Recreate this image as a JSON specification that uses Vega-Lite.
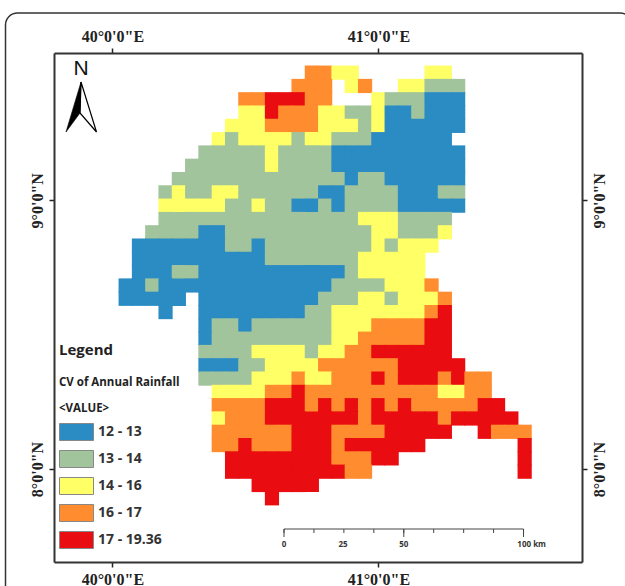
{"$schema":"https://vega.github.io/schema/vega-lite/v6.json","width":528,"height":509,"autosize":{"type":"none"},"padding":{"left":54,"top":53,"right":43,"bottom":24},"background":"white","view":{"stroke":null},
"data":{"values":[{"note":"annotation"}]},
"datasets":{"scalebar":[{"km":0,"lon":40.6453},{"km":12.5,"lon":40.7579},{"km":25,"lon":40.8704},{"km":37.5,"lon":40.983},{"km":50,"lon":41.0956},{"km":62.5,"lon":41.2081},{"km":75,"lon":41.3207},{"km":87.5,"lon":41.4332},{"km":100,"lon":41.5458}],
"scalelabels":[{"t":"0","lon":40.6453},{"t":"25","lon":40.8672},{"t":"50","lon":41.0957},{"t":"100 km","lon":41.5763}],
"cells":[
{"lon":40.75,"lat":9.475,"cv":"16 - 17"},{"lon":40.8,"lat":9.475,"cv":"16 - 17"},{"lon":40.85,"lat":9.475,"cv":"14 - 16"},{"lon":40.9,"lat":9.475,"cv":"14 - 16"},{"lon":41.2,"lat":9.475,"cv":"14 - 16"},{"lon":41.25,"lat":9.475,"cv":"14 - 16"},
{"lon":40.7,"lat":9.4255,"cv":"16 - 17"},{"lon":40.75,"lat":9.4255,"cv":"16 - 17"},{"lon":40.8,"lat":9.4255,"cv":"16 - 17"},{"lon":40.9,"lat":9.4255,"cv":"14 - 16"},{"lon":40.95,"lat":9.4255,"cv":"16 - 17"},{"lon":41.1,"lat":9.4255,"cv":"14 - 16"},{"lon":41.15,"lat":9.4255,"cv":"14 - 16"},{"lon":41.2,"lat":9.4255,"cv":"13 - 14"},{"lon":41.25,"lat":9.4255,"cv":"13 - 14"},{"lon":41.3,"lat":9.4255,"cv":"13 - 14"},
{"lon":40.5,"lat":9.376,"cv":"16 - 17"},{"lon":40.55,"lat":9.376,"cv":"16 - 17"},{"lon":40.6,"lat":9.376,"cv":"17 - 19.36"},{"lon":40.65,"lat":9.376,"cv":"17 - 19.36"},{"lon":40.7,"lat":9.376,"cv":"17 - 19.36"},{"lon":40.75,"lat":9.376,"cv":"16 - 17"},{"lon":40.8,"lat":9.376,"cv":"16 - 17"},{"lon":41,"lat":9.376,"cv":"14 - 16"},{"lon":41.05,"lat":9.376,"cv":"13 - 14"},{"lon":41.1,"lat":9.376,"cv":"13 - 14"},{"lon":41.15,"lat":9.376,"cv":"13 - 14"},{"lon":41.2,"lat":9.376,"cv":"12 - 13"},{"lon":41.25,"lat":9.376,"cv":"12 - 13"},{"lon":41.3,"lat":9.376,"cv":"12 - 13"},
{"lon":40.5,"lat":9.3265,"cv":"14 - 16"},{"lon":40.55,"lat":9.3265,"cv":"14 - 16"},{"lon":40.6,"lat":9.3265,"cv":"17 - 19.36"},{"lon":40.65,"lat":9.3265,"cv":"16 - 17"},{"lon":40.7,"lat":9.3265,"cv":"16 - 17"},{"lon":40.75,"lat":9.3265,"cv":"16 - 17"},{"lon":40.8,"lat":9.3265,"cv":"14 - 16"},{"lon":40.85,"lat":9.3265,"cv":"14 - 16"},{"lon":40.9,"lat":9.3265,"cv":"13 - 14"},{"lon":40.95,"lat":9.3265,"cv":"13 - 14"},{"lon":41,"lat":9.3265,"cv":"14 - 16"},{"lon":41.05,"lat":9.3265,"cv":"12 - 13"},{"lon":41.1,"lat":9.3265,"cv":"12 - 13"},{"lon":41.15,"lat":9.3265,"cv":"13 - 14"},{"lon":41.2,"lat":9.3265,"cv":"12 - 13"},{"lon":41.25,"lat":9.3265,"cv":"12 - 13"},{"lon":41.3,"lat":9.3265,"cv":"12 - 13"},
{"lon":40.45,"lat":9.277,"cv":"14 - 16"},{"lon":40.5,"lat":9.277,"cv":"14 - 16"},{"lon":40.55,"lat":9.277,"cv":"14 - 16"},{"lon":40.6,"lat":9.277,"cv":"16 - 17"},{"lon":40.65,"lat":9.277,"cv":"16 - 17"},{"lon":40.7,"lat":9.277,"cv":"16 - 17"},{"lon":40.75,"lat":9.277,"cv":"16 - 17"},{"lon":40.8,"lat":9.277,"cv":"14 - 16"},{"lon":40.85,"lat":9.277,"cv":"14 - 16"},{"lon":40.9,"lat":9.277,"cv":"14 - 16"},{"lon":40.95,"lat":9.277,"cv":"13 - 14"},{"lon":41,"lat":9.277,"cv":"14 - 16"},{"lon":41.05,"lat":9.277,"cv":"12 - 13"},{"lon":41.1,"lat":9.277,"cv":"12 - 13"},{"lon":41.15,"lat":9.277,"cv":"12 - 13"},{"lon":41.2,"lat":9.277,"cv":"12 - 13"},{"lon":41.25,"lat":9.277,"cv":"12 - 13"},{"lon":41.3,"lat":9.277,"cv":"12 - 13"},
{"lon":40.4,"lat":9.2275,"cv":"14 - 16"},{"lon":40.45,"lat":9.2275,"cv":"13 - 14"},{"lon":40.5,"lat":9.2275,"cv":"14 - 16"},{"lon":40.55,"lat":9.2275,"cv":"14 - 16"},{"lon":40.6,"lat":9.2275,"cv":"14 - 16"},{"lon":40.65,"lat":9.2275,"cv":"14 - 16"},{"lon":40.7,"lat":9.2275,"cv":"13 - 14"},{"lon":40.75,"lat":9.2275,"cv":"14 - 16"},{"lon":40.8,"lat":9.2275,"cv":"14 - 16"},{"lon":40.85,"lat":9.2275,"cv":"13 - 14"},{"lon":40.9,"lat":9.2275,"cv":"13 - 14"},{"lon":40.95,"lat":9.2275,"cv":"13 - 14"},{"lon":41,"lat":9.2275,"cv":"12 - 13"},{"lon":41.05,"lat":9.2275,"cv":"12 - 13"},{"lon":41.1,"lat":9.2275,"cv":"12 - 13"},{"lon":41.15,"lat":9.2275,"cv":"12 - 13"},{"lon":41.2,"lat":9.2275,"cv":"12 - 13"},{"lon":41.25,"lat":9.2275,"cv":"12 - 13"},
{"lon":40.35,"lat":9.178,"cv":"13 - 14"},{"lon":40.4,"lat":9.178,"cv":"13 - 14"},{"lon":40.45,"lat":9.178,"cv":"13 - 14"},{"lon":40.5,"lat":9.178,"cv":"13 - 14"},{"lon":40.55,"lat":9.178,"cv":"13 - 14"},{"lon":40.6,"lat":9.178,"cv":"14 - 16"},{"lon":40.65,"lat":9.178,"cv":"13 - 14"},{"lon":40.7,"lat":9.178,"cv":"13 - 14"},{"lon":40.75,"lat":9.178,"cv":"13 - 14"},{"lon":40.8,"lat":9.178,"cv":"13 - 14"},{"lon":40.85,"lat":9.178,"cv":"12 - 13"},{"lon":40.9,"lat":9.178,"cv":"12 - 13"},{"lon":40.95,"lat":9.178,"cv":"12 - 13"},{"lon":41,"lat":9.178,"cv":"12 - 13"},{"lon":41.05,"lat":9.178,"cv":"12 - 13"},{"lon":41.1,"lat":9.178,"cv":"12 - 13"},{"lon":41.15,"lat":9.178,"cv":"12 - 13"},{"lon":41.2,"lat":9.178,"cv":"12 - 13"},{"lon":41.25,"lat":9.178,"cv":"12 - 13"},{"lon":41.3,"lat":9.178,"cv":"12 - 13"},
{"lon":40.3,"lat":9.1285,"cv":"13 - 14"},{"lon":40.35,"lat":9.1285,"cv":"13 - 14"},{"lon":40.4,"lat":9.1285,"cv":"13 - 14"},{"lon":40.45,"lat":9.1285,"cv":"13 - 14"},{"lon":40.5,"lat":9.1285,"cv":"13 - 14"},{"lon":40.55,"lat":9.1285,"cv":"13 - 14"},{"lon":40.6,"lat":9.1285,"cv":"14 - 16"},{"lon":40.65,"lat":9.1285,"cv":"13 - 14"},{"lon":40.7,"lat":9.1285,"cv":"13 - 14"},{"lon":40.75,"lat":9.1285,"cv":"13 - 14"},{"lon":40.8,"lat":9.1285,"cv":"13 - 14"},{"lon":40.85,"lat":9.1285,"cv":"12 - 13"},{"lon":40.9,"lat":9.1285,"cv":"12 - 13"},{"lon":40.95,"lat":9.1285,"cv":"12 - 13"},{"lon":41,"lat":9.1285,"cv":"12 - 13"},{"lon":41.05,"lat":9.1285,"cv":"12 - 13"},{"lon":41.1,"lat":9.1285,"cv":"12 - 13"},{"lon":41.15,"lat":9.1285,"cv":"12 - 13"},{"lon":41.2,"lat":9.1285,"cv":"12 - 13"},{"lon":41.25,"lat":9.1285,"cv":"12 - 13"},{"lon":41.3,"lat":9.1285,"cv":"12 - 13"},
{"lon":40.25,"lat":9.079,"cv":"13 - 14"},{"lon":40.3,"lat":9.079,"cv":"13 - 14"},{"lon":40.35,"lat":9.079,"cv":"13 - 14"},{"lon":40.4,"lat":9.079,"cv":"13 - 14"},{"lon":40.45,"lat":9.079,"cv":"13 - 14"},{"lon":40.5,"lat":9.079,"cv":"13 - 14"},{"lon":40.55,"lat":9.079,"cv":"13 - 14"},{"lon":40.6,"lat":9.079,"cv":"13 - 14"},{"lon":40.65,"lat":9.079,"cv":"13 - 14"},{"lon":40.7,"lat":9.079,"cv":"13 - 14"},{"lon":40.75,"lat":9.079,"cv":"13 - 14"},{"lon":40.8,"lat":9.079,"cv":"13 - 14"},{"lon":40.85,"lat":9.079,"cv":"13 - 14"},{"lon":40.9,"lat":9.079,"cv":"12 - 13"},{"lon":40.95,"lat":9.079,"cv":"13 - 14"},{"lon":41,"lat":9.079,"cv":"13 - 14"},{"lon":41.05,"lat":9.079,"cv":"12 - 13"},{"lon":41.1,"lat":9.079,"cv":"12 - 13"},{"lon":41.15,"lat":9.079,"cv":"12 - 13"},{"lon":41.2,"lat":9.079,"cv":"12 - 13"},{"lon":41.25,"lat":9.079,"cv":"12 - 13"},{"lon":41.3,"lat":9.079,"cv":"12 - 13"},
{"lon":40.2,"lat":9.0295,"cv":"13 - 14"},{"lon":40.25,"lat":9.0295,"cv":"14 - 16"},{"lon":40.3,"lat":9.0295,"cv":"13 - 14"},{"lon":40.35,"lat":9.0295,"cv":"13 - 14"},{"lon":40.4,"lat":9.0295,"cv":"14 - 16"},{"lon":40.45,"lat":9.0295,"cv":"14 - 16"},{"lon":40.5,"lat":9.0295,"cv":"13 - 14"},{"lon":40.55,"lat":9.0295,"cv":"13 - 14"},{"lon":40.6,"lat":9.0295,"cv":"13 - 14"},{"lon":40.65,"lat":9.0295,"cv":"13 - 14"},{"lon":40.7,"lat":9.0295,"cv":"13 - 14"},{"lon":40.75,"lat":9.0295,"cv":"13 - 14"},{"lon":40.8,"lat":9.0295,"cv":"12 - 13"},{"lon":40.85,"lat":9.0295,"cv":"12 - 13"},{"lon":40.9,"lat":9.0295,"cv":"13 - 14"},{"lon":40.95,"lat":9.0295,"cv":"13 - 14"},{"lon":41,"lat":9.0295,"cv":"13 - 14"},{"lon":41.05,"lat":9.0295,"cv":"13 - 14"},{"lon":41.1,"lat":9.0295,"cv":"12 - 13"},{"lon":41.15,"lat":9.0295,"cv":"12 - 13"},{"lon":41.2,"lat":9.0295,"cv":"12 - 13"},{"lon":41.25,"lat":9.0295,"cv":"13 - 14"},{"lon":41.3,"lat":9.0295,"cv":"13 - 14"},
{"lon":40.2,"lat":8.98,"cv":"14 - 16"},{"lon":40.25,"lat":8.98,"cv":"14 - 16"},{"lon":40.3,"lat":8.98,"cv":"14 - 16"},{"lon":40.35,"lat":8.98,"cv":"14 - 16"},{"lon":40.4,"lat":8.98,"cv":"14 - 16"},{"lon":40.45,"lat":8.98,"cv":"13 - 14"},{"lon":40.5,"lat":8.98,"cv":"13 - 14"},{"lon":40.55,"lat":8.98,"cv":"14 - 16"},{"lon":40.6,"lat":8.98,"cv":"13 - 14"},{"lon":40.65,"lat":8.98,"cv":"13 - 14"},{"lon":40.7,"lat":8.98,"cv":"12 - 13"},{"lon":40.75,"lat":8.98,"cv":"12 - 13"},{"lon":40.8,"lat":8.98,"cv":"13 - 14"},{"lon":40.85,"lat":8.98,"cv":"12 - 13"},{"lon":40.9,"lat":8.98,"cv":"13 - 14"},{"lon":40.95,"lat":8.98,"cv":"13 - 14"},{"lon":41,"lat":8.98,"cv":"13 - 14"},{"lon":41.05,"lat":8.98,"cv":"13 - 14"},{"lon":41.1,"lat":8.98,"cv":"12 - 13"},{"lon":41.15,"lat":8.98,"cv":"12 - 13"},{"lon":41.2,"lat":8.98,"cv":"12 - 13"},{"lon":41.25,"lat":8.98,"cv":"12 - 13"},{"lon":41.3,"lat":8.98,"cv":"12 - 13"},
{"lon":40.2,"lat":8.9305,"cv":"13 - 14"},{"lon":40.25,"lat":8.9305,"cv":"13 - 14"},{"lon":40.3,"lat":8.9305,"cv":"13 - 14"},{"lon":40.35,"lat":8.9305,"cv":"13 - 14"},{"lon":40.4,"lat":8.9305,"cv":"13 - 14"},{"lon":40.45,"lat":8.9305,"cv":"13 - 14"},{"lon":40.5,"lat":8.9305,"cv":"13 - 14"},{"lon":40.55,"lat":8.9305,"cv":"13 - 14"},{"lon":40.6,"lat":8.9305,"cv":"13 - 14"},{"lon":40.65,"lat":8.9305,"cv":"13 - 14"},{"lon":40.7,"lat":8.9305,"cv":"13 - 14"},{"lon":40.75,"lat":8.9305,"cv":"13 - 14"},{"lon":40.8,"lat":8.9305,"cv":"13 - 14"},{"lon":40.85,"lat":8.9305,"cv":"13 - 14"},{"lon":40.9,"lat":8.9305,"cv":"13 - 14"},{"lon":40.95,"lat":8.9305,"cv":"14 - 16"},{"lon":41,"lat":8.9305,"cv":"14 - 16"},{"lon":41.05,"lat":8.9305,"cv":"14 - 16"},{"lon":41.1,"lat":8.9305,"cv":"13 - 14"},{"lon":41.15,"lat":8.9305,"cv":"13 - 14"},{"lon":41.2,"lat":8.9305,"cv":"13 - 14"},{"lon":41.25,"lat":8.9305,"cv":"13 - 14"},
{"lon":40.15,"lat":8.881,"cv":"13 - 14"},{"lon":40.2,"lat":8.881,"cv":"13 - 14"},{"lon":40.25,"lat":8.881,"cv":"13 - 14"},{"lon":40.3,"lat":8.881,"cv":"13 - 14"},{"lon":40.35,"lat":8.881,"cv":"12 - 13"},{"lon":40.4,"lat":8.881,"cv":"12 - 13"},{"lon":40.45,"lat":8.881,"cv":"13 - 14"},{"lon":40.5,"lat":8.881,"cv":"13 - 14"},{"lon":40.55,"lat":8.881,"cv":"13 - 14"},{"lon":40.6,"lat":8.881,"cv":"13 - 14"},{"lon":40.65,"lat":8.881,"cv":"13 - 14"},{"lon":40.7,"lat":8.881,"cv":"13 - 14"},{"lon":40.75,"lat":8.881,"cv":"13 - 14"},{"lon":40.8,"lat":8.881,"cv":"13 - 14"},{"lon":40.85,"lat":8.881,"cv":"13 - 14"},{"lon":40.9,"lat":8.881,"cv":"13 - 14"},{"lon":40.95,"lat":8.881,"cv":"13 - 14"},{"lon":41,"lat":8.881,"cv":"14 - 16"},{"lon":41.05,"lat":8.881,"cv":"14 - 16"},{"lon":41.1,"lat":8.881,"cv":"13 - 14"},{"lon":41.15,"lat":8.881,"cv":"13 - 14"},{"lon":41.2,"lat":8.881,"cv":"13 - 14"},{"lon":41.25,"lat":8.881,"cv":"14 - 16"},
{"lon":40.1,"lat":8.8315,"cv":"12 - 13"},{"lon":40.15,"lat":8.8315,"cv":"12 - 13"},{"lon":40.2,"lat":8.8315,"cv":"12 - 13"},{"lon":40.25,"lat":8.8315,"cv":"12 - 13"},{"lon":40.3,"lat":8.8315,"cv":"12 - 13"},{"lon":40.35,"lat":8.8315,"cv":"12 - 13"},{"lon":40.4,"lat":8.8315,"cv":"12 - 13"},{"lon":40.45,"lat":8.8315,"cv":"13 - 14"},{"lon":40.5,"lat":8.8315,"cv":"13 - 14"},{"lon":40.55,"lat":8.8315,"cv":"12 - 13"},{"lon":40.6,"lat":8.8315,"cv":"13 - 14"},{"lon":40.65,"lat":8.8315,"cv":"13 - 14"},{"lon":40.7,"lat":8.8315,"cv":"13 - 14"},{"lon":40.75,"lat":8.8315,"cv":"13 - 14"},{"lon":40.8,"lat":8.8315,"cv":"13 - 14"},{"lon":40.85,"lat":8.8315,"cv":"13 - 14"},{"lon":40.9,"lat":8.8315,"cv":"13 - 14"},{"lon":40.95,"lat":8.8315,"cv":"13 - 14"},{"lon":41,"lat":8.8315,"cv":"14 - 16"},{"lon":41.05,"lat":8.8315,"cv":"13 - 14"},{"lon":41.1,"lat":8.8315,"cv":"14 - 16"},{"lon":41.15,"lat":8.8315,"cv":"14 - 16"},{"lon":41.2,"lat":8.8315,"cv":"14 - 16"},
{"lon":40.1,"lat":8.782,"cv":"12 - 13"},{"lon":40.15,"lat":8.782,"cv":"12 - 13"},{"lon":40.2,"lat":8.782,"cv":"12 - 13"},{"lon":40.25,"lat":8.782,"cv":"12 - 13"},{"lon":40.3,"lat":8.782,"cv":"12 - 13"},{"lon":40.35,"lat":8.782,"cv":"12 - 13"},{"lon":40.4,"lat":8.782,"cv":"12 - 13"},{"lon":40.45,"lat":8.782,"cv":"12 - 13"},{"lon":40.5,"lat":8.782,"cv":"12 - 13"},{"lon":40.55,"lat":8.782,"cv":"12 - 13"},{"lon":40.6,"lat":8.782,"cv":"13 - 14"},{"lon":40.65,"lat":8.782,"cv":"13 - 14"},{"lon":40.7,"lat":8.782,"cv":"13 - 14"},{"lon":40.75,"lat":8.782,"cv":"13 - 14"},{"lon":40.8,"lat":8.782,"cv":"13 - 14"},{"lon":40.85,"lat":8.782,"cv":"13 - 14"},{"lon":40.9,"lat":8.782,"cv":"13 - 14"},{"lon":40.95,"lat":8.782,"cv":"14 - 16"},{"lon":41,"lat":8.782,"cv":"14 - 16"},{"lon":41.05,"lat":8.782,"cv":"14 - 16"},{"lon":41.1,"lat":8.782,"cv":"14 - 16"},{"lon":41.15,"lat":8.782,"cv":"14 - 16"},
{"lon":40.1,"lat":8.7325,"cv":"12 - 13"},{"lon":40.15,"lat":8.7325,"cv":"12 - 13"},{"lon":40.2,"lat":8.7325,"cv":"12 - 13"},{"lon":40.25,"lat":8.7325,"cv":"13 - 14"},{"lon":40.3,"lat":8.7325,"cv":"13 - 14"},{"lon":40.35,"lat":8.7325,"cv":"12 - 13"},{"lon":40.4,"lat":8.7325,"cv":"12 - 13"},{"lon":40.45,"lat":8.7325,"cv":"12 - 13"},{"lon":40.5,"lat":8.7325,"cv":"12 - 13"},{"lon":40.55,"lat":8.7325,"cv":"12 - 13"},{"lon":40.6,"lat":8.7325,"cv":"12 - 13"},{"lon":40.65,"lat":8.7325,"cv":"12 - 13"},{"lon":40.7,"lat":8.7325,"cv":"12 - 13"},{"lon":40.75,"lat":8.7325,"cv":"12 - 13"},{"lon":40.8,"lat":8.7325,"cv":"12 - 13"},{"lon":40.85,"lat":8.7325,"cv":"12 - 13"},{"lon":40.9,"lat":8.7325,"cv":"13 - 14"},{"lon":40.95,"lat":8.7325,"cv":"14 - 16"},{"lon":41,"lat":8.7325,"cv":"14 - 16"},{"lon":41.05,"lat":8.7325,"cv":"14 - 16"},{"lon":41.1,"lat":8.7325,"cv":"14 - 16"},{"lon":41.15,"lat":8.7325,"cv":"14 - 16"},
{"lon":40.05,"lat":8.683,"cv":"12 - 13"},{"lon":40.1,"lat":8.683,"cv":"12 - 13"},{"lon":40.15,"lat":8.683,"cv":"13 - 14"},{"lon":40.2,"lat":8.683,"cv":"12 - 13"},{"lon":40.25,"lat":8.683,"cv":"12 - 13"},{"lon":40.3,"lat":8.683,"cv":"12 - 13"},{"lon":40.35,"lat":8.683,"cv":"12 - 13"},{"lon":40.4,"lat":8.683,"cv":"12 - 13"},{"lon":40.45,"lat":8.683,"cv":"12 - 13"},{"lon":40.5,"lat":8.683,"cv":"12 - 13"},{"lon":40.55,"lat":8.683,"cv":"12 - 13"},{"lon":40.6,"lat":8.683,"cv":"12 - 13"},{"lon":40.65,"lat":8.683,"cv":"12 - 13"},{"lon":40.7,"lat":8.683,"cv":"12 - 13"},{"lon":40.75,"lat":8.683,"cv":"12 - 13"},{"lon":40.8,"lat":8.683,"cv":"12 - 13"},{"lon":40.85,"lat":8.683,"cv":"13 - 14"},{"lon":40.9,"lat":8.683,"cv":"13 - 14"},{"lon":40.95,"lat":8.683,"cv":"13 - 14"},{"lon":41,"lat":8.683,"cv":"13 - 14"},{"lon":41.05,"lat":8.683,"cv":"14 - 16"},{"lon":41.1,"lat":8.683,"cv":"14 - 16"},{"lon":41.15,"lat":8.683,"cv":"14 - 16"},{"lon":41.2,"lat":8.683,"cv":"16 - 17"},
{"lon":40.05,"lat":8.6335,"cv":"12 - 13"},{"lon":40.1,"lat":8.6335,"cv":"12 - 13"},{"lon":40.15,"lat":8.6335,"cv":"12 - 13"},{"lon":40.2,"lat":8.6335,"cv":"12 - 13"},{"lon":40.25,"lat":8.6335,"cv":"12 - 13"},{"lon":40.35,"lat":8.6335,"cv":"12 - 13"},{"lon":40.4,"lat":8.6335,"cv":"12 - 13"},{"lon":40.45,"lat":8.6335,"cv":"12 - 13"},{"lon":40.5,"lat":8.6335,"cv":"12 - 13"},{"lon":40.55,"lat":8.6335,"cv":"12 - 13"},{"lon":40.6,"lat":8.6335,"cv":"12 - 13"},{"lon":40.65,"lat":8.6335,"cv":"12 - 13"},{"lon":40.7,"lat":8.6335,"cv":"12 - 13"},{"lon":40.75,"lat":8.6335,"cv":"12 - 13"},{"lon":40.8,"lat":8.6335,"cv":"13 - 14"},{"lon":40.85,"lat":8.6335,"cv":"13 - 14"},{"lon":40.9,"lat":8.6335,"cv":"13 - 14"},{"lon":40.95,"lat":8.6335,"cv":"14 - 16"},{"lon":41,"lat":8.6335,"cv":"14 - 16"},{"lon":41.05,"lat":8.6335,"cv":"13 - 14"},{"lon":41.1,"lat":8.6335,"cv":"14 - 16"},{"lon":41.15,"lat":8.6335,"cv":"14 - 16"},{"lon":41.2,"lat":8.6335,"cv":"14 - 16"},{"lon":41.25,"lat":8.6335,"cv":"16 - 17"},
{"lon":40.2,"lat":8.584,"cv":"12 - 13"},{"lon":40.35,"lat":8.584,"cv":"12 - 13"},{"lon":40.4,"lat":8.584,"cv":"12 - 13"},{"lon":40.45,"lat":8.584,"cv":"12 - 13"},{"lon":40.5,"lat":8.584,"cv":"12 - 13"},{"lon":40.55,"lat":8.584,"cv":"12 - 13"},{"lon":40.6,"lat":8.584,"cv":"12 - 13"},{"lon":40.65,"lat":8.584,"cv":"12 - 13"},{"lon":40.7,"lat":8.584,"cv":"12 - 13"},{"lon":40.75,"lat":8.584,"cv":"13 - 14"},{"lon":40.8,"lat":8.584,"cv":"13 - 14"},{"lon":40.85,"lat":8.584,"cv":"14 - 16"},{"lon":40.9,"lat":8.584,"cv":"14 - 16"},{"lon":40.95,"lat":8.584,"cv":"14 - 16"},{"lon":41,"lat":8.584,"cv":"14 - 16"},{"lon":41.05,"lat":8.584,"cv":"14 - 16"},{"lon":41.1,"lat":8.584,"cv":"14 - 16"},{"lon":41.15,"lat":8.584,"cv":"14 - 16"},{"lon":41.2,"lat":8.584,"cv":"16 - 17"},{"lon":41.25,"lat":8.584,"cv":"17 - 19.36"},
{"lon":40.35,"lat":8.5345,"cv":"12 - 13"},{"lon":40.4,"lat":8.5345,"cv":"13 - 14"},{"lon":40.45,"lat":8.5345,"cv":"13 - 14"},{"lon":40.5,"lat":8.5345,"cv":"12 - 13"},{"lon":40.55,"lat":8.5345,"cv":"13 - 14"},{"lon":40.6,"lat":8.5345,"cv":"13 - 14"},{"lon":40.65,"lat":8.5345,"cv":"13 - 14"},{"lon":40.7,"lat":8.5345,"cv":"13 - 14"},{"lon":40.75,"lat":8.5345,"cv":"13 - 14"},{"lon":40.8,"lat":8.5345,"cv":"13 - 14"},{"lon":40.85,"lat":8.5345,"cv":"14 - 16"},{"lon":40.9,"lat":8.5345,"cv":"14 - 16"},{"lon":40.95,"lat":8.5345,"cv":"14 - 16"},{"lon":41,"lat":8.5345,"cv":"16 - 17"},{"lon":41.05,"lat":8.5345,"cv":"16 - 17"},{"lon":41.1,"lat":8.5345,"cv":"16 - 17"},{"lon":41.15,"lat":8.5345,"cv":"16 - 17"},{"lon":41.2,"lat":8.5345,"cv":"17 - 19.36"},{"lon":41.25,"lat":8.5345,"cv":"17 - 19.36"},
{"lon":40.35,"lat":8.485,"cv":"12 - 13"},{"lon":40.4,"lat":8.485,"cv":"13 - 14"},{"lon":40.45,"lat":8.485,"cv":"13 - 14"},{"lon":40.5,"lat":8.485,"cv":"13 - 14"},{"lon":40.55,"lat":8.485,"cv":"13 - 14"},{"lon":40.6,"lat":8.485,"cv":"13 - 14"},{"lon":40.65,"lat":8.485,"cv":"13 - 14"},{"lon":40.7,"lat":8.485,"cv":"13 - 14"},{"lon":40.75,"lat":8.485,"cv":"13 - 14"},{"lon":40.8,"lat":8.485,"cv":"13 - 14"},{"lon":40.85,"lat":8.485,"cv":"14 - 16"},{"lon":40.9,"lat":8.485,"cv":"14 - 16"},{"lon":40.95,"lat":8.485,"cv":"16 - 17"},{"lon":41,"lat":8.485,"cv":"16 - 17"},{"lon":41.05,"lat":8.485,"cv":"16 - 17"},{"lon":41.1,"lat":8.485,"cv":"16 - 17"},{"lon":41.15,"lat":8.485,"cv":"16 - 17"},{"lon":41.2,"lat":8.485,"cv":"17 - 19.36"},{"lon":41.25,"lat":8.485,"cv":"17 - 19.36"},
{"lon":40.35,"lat":8.4355,"cv":"13 - 14"},{"lon":40.4,"lat":8.4355,"cv":"13 - 14"},{"lon":40.45,"lat":8.4355,"cv":"13 - 14"},{"lon":40.5,"lat":8.4355,"cv":"13 - 14"},{"lon":40.55,"lat":8.4355,"cv":"14 - 16"},{"lon":40.6,"lat":8.4355,"cv":"14 - 16"},{"lon":40.65,"lat":8.4355,"cv":"14 - 16"},{"lon":40.7,"lat":8.4355,"cv":"14 - 16"},{"lon":40.75,"lat":8.4355,"cv":"13 - 14"},{"lon":40.8,"lat":8.4355,"cv":"14 - 16"},{"lon":40.85,"lat":8.4355,"cv":"14 - 16"},{"lon":40.9,"lat":8.4355,"cv":"16 - 17"},{"lon":40.95,"lat":8.4355,"cv":"16 - 17"},{"lon":41,"lat":8.4355,"cv":"17 - 19.36"},{"lon":41.05,"lat":8.4355,"cv":"17 - 19.36"},{"lon":41.1,"lat":8.4355,"cv":"17 - 19.36"},{"lon":41.15,"lat":8.4355,"cv":"17 - 19.36"},{"lon":41.2,"lat":8.4355,"cv":"17 - 19.36"},{"lon":41.25,"lat":8.4355,"cv":"17 - 19.36"},
{"lon":40.35,"lat":8.386,"cv":"12 - 13"},{"lon":40.4,"lat":8.386,"cv":"12 - 13"},{"lon":40.45,"lat":8.386,"cv":"12 - 13"},{"lon":40.5,"lat":8.386,"cv":"13 - 14"},{"lon":40.55,"lat":8.386,"cv":"13 - 14"},{"lon":40.6,"lat":8.386,"cv":"14 - 16"},{"lon":40.65,"lat":8.386,"cv":"14 - 16"},{"lon":40.7,"lat":8.386,"cv":"14 - 16"},{"lon":40.75,"lat":8.386,"cv":"14 - 16"},{"lon":40.8,"lat":8.386,"cv":"16 - 17"},{"lon":40.85,"lat":8.386,"cv":"16 - 17"},{"lon":40.9,"lat":8.386,"cv":"16 - 17"},{"lon":40.95,"lat":8.386,"cv":"16 - 17"},{"lon":41,"lat":8.386,"cv":"16 - 17"},{"lon":41.05,"lat":8.386,"cv":"16 - 17"},{"lon":41.1,"lat":8.386,"cv":"17 - 19.36"},{"lon":41.15,"lat":8.386,"cv":"17 - 19.36"},{"lon":41.2,"lat":8.386,"cv":"17 - 19.36"},{"lon":41.25,"lat":8.386,"cv":"17 - 19.36"},{"lon":41.3,"lat":8.386,"cv":"17 - 19.36"},
{"lon":40.35,"lat":8.3365,"cv":"13 - 14"},{"lon":40.4,"lat":8.3365,"cv":"13 - 14"},{"lon":40.45,"lat":8.3365,"cv":"13 - 14"},{"lon":40.5,"lat":8.3365,"cv":"13 - 14"},{"lon":40.55,"lat":8.3365,"cv":"14 - 16"},{"lon":40.6,"lat":8.3365,"cv":"14 - 16"},{"lon":40.65,"lat":8.3365,"cv":"14 - 16"},{"lon":40.7,"lat":8.3365,"cv":"16 - 17"},{"lon":40.75,"lat":8.3365,"cv":"14 - 16"},{"lon":40.8,"lat":8.3365,"cv":"14 - 16"},{"lon":40.85,"lat":8.3365,"cv":"16 - 17"},{"lon":40.9,"lat":8.3365,"cv":"16 - 17"},{"lon":40.95,"lat":8.3365,"cv":"16 - 17"},{"lon":41,"lat":8.3365,"cv":"17 - 19.36"},{"lon":41.05,"lat":8.3365,"cv":"16 - 17"},{"lon":41.1,"lat":8.3365,"cv":"17 - 19.36"},{"lon":41.15,"lat":8.3365,"cv":"17 - 19.36"},{"lon":41.2,"lat":8.3365,"cv":"17 - 19.36"},{"lon":41.25,"lat":8.3365,"cv":"16 - 17"},{"lon":41.3,"lat":8.3365,"cv":"17 - 19.36"},{"lon":41.35,"lat":8.3365,"cv":"16 - 17"},{"lon":41.4,"lat":8.3365,"cv":"16 - 17"},
{"lon":40.4,"lat":8.287,"cv":"14 - 16"},{"lon":40.45,"lat":8.287,"cv":"14 - 16"},{"lon":40.5,"lat":8.287,"cv":"14 - 16"},{"lon":40.55,"lat":8.287,"cv":"14 - 16"},{"lon":40.6,"lat":8.287,"cv":"16 - 17"},{"lon":40.65,"lat":8.287,"cv":"16 - 17"},{"lon":40.7,"lat":8.287,"cv":"17 - 19.36"},{"lon":40.75,"lat":8.287,"cv":"16 - 17"},{"lon":40.8,"lat":8.287,"cv":"16 - 17"},{"lon":40.85,"lat":8.287,"cv":"16 - 17"},{"lon":40.9,"lat":8.287,"cv":"16 - 17"},{"lon":40.95,"lat":8.287,"cv":"16 - 17"},{"lon":41,"lat":8.287,"cv":"16 - 17"},{"lon":41.05,"lat":8.287,"cv":"16 - 17"},{"lon":41.1,"lat":8.287,"cv":"16 - 17"},{"lon":41.15,"lat":8.287,"cv":"16 - 17"},{"lon":41.2,"lat":8.287,"cv":"16 - 17"},{"lon":41.25,"lat":8.287,"cv":"14 - 16"},{"lon":41.3,"lat":8.287,"cv":"14 - 16"},{"lon":41.35,"lat":8.287,"cv":"16 - 17"},{"lon":41.4,"lat":8.287,"cv":"16 - 17"},
{"lon":40.4,"lat":8.2375,"cv":"16 - 17"},{"lon":40.45,"lat":8.2375,"cv":"16 - 17"},{"lon":40.5,"lat":8.2375,"cv":"16 - 17"},{"lon":40.55,"lat":8.2375,"cv":"16 - 17"},{"lon":40.6,"lat":8.2375,"cv":"17 - 19.36"},{"lon":40.65,"lat":8.2375,"cv":"17 - 19.36"},{"lon":40.7,"lat":8.2375,"cv":"17 - 19.36"},{"lon":40.75,"lat":8.2375,"cv":"16 - 17"},{"lon":40.8,"lat":8.2375,"cv":"17 - 19.36"},{"lon":40.85,"lat":8.2375,"cv":"16 - 17"},{"lon":40.9,"lat":8.2375,"cv":"17 - 19.36"},{"lon":40.95,"lat":8.2375,"cv":"16 - 17"},{"lon":41,"lat":8.2375,"cv":"17 - 19.36"},{"lon":41.05,"lat":8.2375,"cv":"16 - 17"},{"lon":41.1,"lat":8.2375,"cv":"17 - 19.36"},{"lon":41.15,"lat":8.2375,"cv":"16 - 17"},{"lon":41.2,"lat":8.2375,"cv":"16 - 17"},{"lon":41.25,"lat":8.2375,"cv":"16 - 17"},{"lon":41.3,"lat":8.2375,"cv":"16 - 17"},{"lon":41.35,"lat":8.2375,"cv":"16 - 17"},{"lon":41.4,"lat":8.2375,"cv":"17 - 19.36"},{"lon":41.45,"lat":8.2375,"cv":"17 - 19.36"},
{"lon":40.4,"lat":8.188,"cv":"14 - 16"},{"lon":40.45,"lat":8.188,"cv":"16 - 17"},{"lon":40.5,"lat":8.188,"cv":"16 - 17"},{"lon":40.55,"lat":8.188,"cv":"16 - 17"},{"lon":40.6,"lat":8.188,"cv":"17 - 19.36"},{"lon":40.65,"lat":8.188,"cv":"17 - 19.36"},{"lon":40.7,"lat":8.188,"cv":"17 - 19.36"},{"lon":40.75,"lat":8.188,"cv":"17 - 19.36"},{"lon":40.8,"lat":8.188,"cv":"17 - 19.36"},{"lon":40.85,"lat":8.188,"cv":"17 - 19.36"},{"lon":40.9,"lat":8.188,"cv":"17 - 19.36"},{"lon":40.95,"lat":8.188,"cv":"16 - 17"},{"lon":41,"lat":8.188,"cv":"17 - 19.36"},{"lon":41.05,"lat":8.188,"cv":"17 - 19.36"},{"lon":41.1,"lat":8.188,"cv":"17 - 19.36"},{"lon":41.15,"lat":8.188,"cv":"17 - 19.36"},{"lon":41.2,"lat":8.188,"cv":"17 - 19.36"},{"lon":41.25,"lat":8.188,"cv":"16 - 17"},{"lon":41.3,"lat":8.188,"cv":"17 - 19.36"},{"lon":41.35,"lat":8.188,"cv":"17 - 19.36"},{"lon":41.4,"lat":8.188,"cv":"17 - 19.36"},{"lon":41.45,"lat":8.188,"cv":"17 - 19.36"},{"lon":41.5,"lat":8.188,"cv":"17 - 19.36"},
{"lon":40.4,"lat":8.1385,"cv":"16 - 17"},{"lon":40.45,"lat":8.1385,"cv":"16 - 17"},{"lon":40.5,"lat":8.1385,"cv":"16 - 17"},{"lon":40.55,"lat":8.1385,"cv":"16 - 17"},{"lon":40.6,"lat":8.1385,"cv":"16 - 17"},{"lon":40.65,"lat":8.1385,"cv":"16 - 17"},{"lon":40.7,"lat":8.1385,"cv":"17 - 19.36"},{"lon":40.75,"lat":8.1385,"cv":"17 - 19.36"},{"lon":40.8,"lat":8.1385,"cv":"17 - 19.36"},{"lon":40.85,"lat":8.1385,"cv":"16 - 17"},{"lon":40.9,"lat":8.1385,"cv":"16 - 17"},{"lon":40.95,"lat":8.1385,"cv":"16 - 17"},{"lon":41,"lat":8.1385,"cv":"16 - 17"},{"lon":41.05,"lat":8.1385,"cv":"17 - 19.36"},{"lon":41.1,"lat":8.1385,"cv":"17 - 19.36"},{"lon":41.15,"lat":8.1385,"cv":"17 - 19.36"},{"lon":41.2,"lat":8.1385,"cv":"17 - 19.36"},{"lon":41.25,"lat":8.1385,"cv":"17 - 19.36"},{"lon":41.4,"lat":8.1385,"cv":"17 - 19.36"},{"lon":41.45,"lat":8.1385,"cv":"16 - 17"},{"lon":41.5,"lat":8.1385,"cv":"16 - 17"},{"lon":41.55,"lat":8.1385,"cv":"16 - 17"},
{"lon":40.4,"lat":8.089,"cv":"16 - 17"},{"lon":40.45,"lat":8.089,"cv":"16 - 17"},{"lon":40.5,"lat":8.089,"cv":"17 - 19.36"},{"lon":40.55,"lat":8.089,"cv":"16 - 17"},{"lon":40.6,"lat":8.089,"cv":"16 - 17"},{"lon":40.65,"lat":8.089,"cv":"16 - 17"},{"lon":40.7,"lat":8.089,"cv":"17 - 19.36"},{"lon":40.75,"lat":8.089,"cv":"17 - 19.36"},{"lon":40.8,"lat":8.089,"cv":"17 - 19.36"},{"lon":40.85,"lat":8.089,"cv":"16 - 17"},{"lon":40.9,"lat":8.089,"cv":"17 - 19.36"},{"lon":40.95,"lat":8.089,"cv":"17 - 19.36"},{"lon":41,"lat":8.089,"cv":"17 - 19.36"},{"lon":41.05,"lat":8.089,"cv":"17 - 19.36"},{"lon":41.1,"lat":8.089,"cv":"17 - 19.36"},{"lon":41.15,"lat":8.089,"cv":"17 - 19.36"},{"lon":41.55,"lat":8.089,"cv":"17 - 19.36"},
{"lon":40.45,"lat":8.0395,"cv":"17 - 19.36"},{"lon":40.5,"lat":8.0395,"cv":"17 - 19.36"},{"lon":40.55,"lat":8.0395,"cv":"17 - 19.36"},{"lon":40.6,"lat":8.0395,"cv":"17 - 19.36"},{"lon":40.65,"lat":8.0395,"cv":"17 - 19.36"},{"lon":40.7,"lat":8.0395,"cv":"17 - 19.36"},{"lon":40.75,"lat":8.0395,"cv":"17 - 19.36"},{"lon":40.8,"lat":8.0395,"cv":"17 - 19.36"},{"lon":40.85,"lat":8.0395,"cv":"16 - 17"},{"lon":40.9,"lat":8.0395,"cv":"16 - 17"},{"lon":40.95,"lat":8.0395,"cv":"16 - 17"},{"lon":41,"lat":8.0395,"cv":"17 - 19.36"},{"lon":41.05,"lat":8.0395,"cv":"17 - 19.36"},{"lon":41.55,"lat":8.0395,"cv":"17 - 19.36"},
{"lon":40.45,"lat":7.99,"cv":"17 - 19.36"},{"lon":40.5,"lat":7.99,"cv":"17 - 19.36"},{"lon":40.55,"lat":7.99,"cv":"17 - 19.36"},{"lon":40.6,"lat":7.99,"cv":"17 - 19.36"},{"lon":40.65,"lat":7.99,"cv":"17 - 19.36"},{"lon":40.7,"lat":7.99,"cv":"17 - 19.36"},{"lon":40.75,"lat":7.99,"cv":"17 - 19.36"},{"lon":40.8,"lat":7.99,"cv":"17 - 19.36"},{"lon":40.85,"lat":7.99,"cv":"17 - 19.36"},{"lon":40.9,"lat":7.99,"cv":"16 - 17"},{"lon":40.95,"lat":7.99,"cv":"16 - 17"},{"lon":41.55,"lat":7.99,"cv":"17 - 19.36"},
{"lon":40.55,"lat":7.9405,"cv":"17 - 19.36"},{"lon":40.6,"lat":7.9405,"cv":"17 - 19.36"},{"lon":40.65,"lat":7.9405,"cv":"17 - 19.36"},{"lon":40.7,"lat":7.9405,"cv":"17 - 19.36"},{"lon":40.75,"lat":7.9405,"cv":"17 - 19.36"},
{"lon":40.6,"lat":7.891,"cv":"17 - 19.36"}
]},
"resolve":{"axis":{"x":"independent","y":"independent"}},
"layer":[
{"mark":{"type":"rect","filled":false,"stroke":"#333","strokeWidth":1.5,"cornerRadius":12},"encoding":{"x":{"datum":39.5983,"type":"quantitative","scale":{"domain":[39.7806,41.7656],"nice":false},"axis":null},"x2":{"datum":41.9536},"y":{"datum":9.6971,"type":"quantitative","scale":{"domain":[7.6539,9.5482],"nice":false},"axis":null},"y2":{"datum":7.5125}}},
{"data":{"name":"cells"},"mark":{"type":"rect","width":14.2,"height":14.2},"encoding":{"x":{"field":"lon","type":"quantitative","scale":{"domain":[39.7806,41.7656],"nice":false},"axis":{"orient":"bottom","values":[40,41],"title":null,"grid":false,"labelExpr":"datum.value + '°0\\'0\"E'","labelFont":"Liberation Serif","labelFontWeight":"bold","labelFontSize":16,"labelColor":"#222","labelPadding":4,"tickColor":"#222","tickSize":5,"tickWidth":1.5,"domainColor":"#333","domainWidth":2}},"y":{"field":"lat","type":"quantitative","scale":{"domain":[7.6539,9.5482],"nice":false},"axis":{"orient":"left","values":[8,9],"title":null,"grid":false,"labelExpr":"datum.value + '°0\\'0\"N'","labelFont":"Liberation Serif","labelFontWeight":"bold","labelFontSize":16,"labelColor":"#222","labelAngle":-90,"labelAlign":"center","labelBaseline":"bottom","labelPadding":4,"tickColor":"#222","tickSize":5,"tickWidth":1.5,"domainColor":"#333","domainWidth":2}},"color":{"field":"cv","type":"nominal","scale":{"domain":["12 - 13","13 - 14","14 - 16","16 - 17","17 - 19.36"],"range":["#2b8cc4","#a1c49c","#ffff66","#ff8c2e","#e90c10"]},"legend":{"orient":"none","legendX":5,"legendY":324,"title":["CV of Annual Rainfall","<VALUE>"],"titleFont":"Open Sans","titleFontWeight":"bold","titleFontSize":11.5,"titleLineHeight":26,"titleColor":"#222","titlePadding":4,"labelFont":"Open Sans","labelFontWeight":"bold","labelFontSize":14,"labelColor":"#333","labelOffset":4,"symbolType":"M-1,-0.5H1V0.5H-1Z","symbolSize":1156,"symbolStrokeColor":"#888","symbolStrokeWidth":1,"symbolOpacity":1,"clipHeight":27,"rowPadding":0,"padding":0,"symbolOffset":0}}}},
{"mark":{"type":"point","opacity":0},"encoding":{"x":{"datum":40,"type":"quantitative","scale":{"domain":[39.7806,41.7656],"nice":false},"axis":{"orient":"top","values":[40,41],"title":null,"grid":false,"labelExpr":"datum.value + '°0\\'0\"E'","labelFont":"Liberation Serif","labelFontWeight":"bold","labelFontSize":16,"labelColor":"#222","labelPadding":4,"tickColor":"#222","tickSize":5,"tickWidth":1.5,"domainColor":"#333","domainWidth":2}},"y":{"datum":9,"type":"quantitative","scale":{"domain":[7.6539,9.5482],"nice":false},"axis":{"orient":"right","values":[8,9],"title":null,"grid":false,"labelExpr":"datum.value + '°0\\'0\"N'","labelFont":"Liberation Serif","labelFontWeight":"bold","labelFontSize":16,"labelColor":"#222","labelAngle":-90,"labelAlign":"center","labelBaseline":"top","labelPadding":4,"tickColor":"#222","tickSize":5,"tickWidth":1.5,"domainColor":"#333","domainWidth":2}}}},
{"mark":{"type":"point","filled":true,"opacity":1,"fill":"white","stroke":"black","strokeWidth":1.2,"size":2500,"shape":"M0,-1L0.62,1L-0.04,0.24Z"},"encoding":{"x":{"datum":39.8821,"type":"quantitative","scale":{"domain":[39.7806,41.7656],"nice":false},"axis":null},"y":{"datum":9.3472,"type":"quantitative","scale":{"domain":[7.6539,9.5482],"nice":false},"axis":null}}},
{"mark":{"type":"point","filled":true,"opacity":1,"fill":"black","stroke":"black","strokeWidth":0.6,"size":2500,"shape":"M0,-1L-0.6,1L-0.04,0.24Z"},"encoding":{"x":{"datum":39.8821,"type":"quantitative","scale":{"domain":[39.7806,41.7656],"nice":false},"axis":null},"y":{"datum":9.3472,"type":"quantitative","scale":{"domain":[7.6539,9.5482],"nice":false},"axis":null}}},
{"mark":{"type":"text","text":"N","font":"Liberation Sans","fontSize":21,"color":"#111","align":"center","baseline":"middle"},"encoding":{"x":{"datum":39.8821,"type":"quantitative","scale":{"domain":[39.7806,41.7656],"nice":false},"axis":null},"y":{"datum":9.4886,"type":"quantitative","scale":{"domain":[7.6539,9.5482],"nice":false},"axis":null}}},
{"mark":{"type":"text","text":"Legend","font":"Open Sans","fontWeight":"bold","fontSize":15,"color":"#222","align":"left","baseline":"middle"},"encoding":{"x":{"datum":39.7994,"type":"quantitative","scale":{"domain":[39.7806,41.7656],"nice":false},"axis":null},"y":{"datum":8.4429,"type":"quantitative","scale":{"domain":[7.6539,9.5482],"nice":false},"axis":null}}},
{"data":{"name":"scalebar"},"mark":{"type":"rule","color":"#444","strokeWidth":1},"encoding":{"x":{"field":"lon","type":"quantitative","scale":{"domain":[39.7806,41.7656],"nice":false},"axis":null},"y":{"datum":7.7767,"type":"quantitative","scale":{"domain":[7.6539,9.5482],"nice":false},"axis":null},"y2":{"datum":7.7618}}},
{"data":{"name":"scalebar"},"transform":[{"filter":"datum.km % 50 === 0"}],"mark":{"type":"rule","color":"#444","strokeWidth":1},"encoding":{"x":{"field":"lon","type":"quantitative","scale":{"domain":[39.7806,41.7656],"nice":false},"axis":null},"y":{"datum":7.7767,"type":"quantitative","scale":{"domain":[7.6539,9.5482],"nice":false},"axis":null},"y2":{"datum":7.7469}}},
{"mark":{"type":"rule","color":"#444","strokeWidth":1},"encoding":{"x":{"datum":40.6453,"type":"quantitative","scale":{"domain":[39.7806,41.7656],"nice":false},"axis":null},"x2":{"datum":41.5458},"y":{"datum":7.7767,"type":"quantitative","scale":{"domain":[7.6539,9.5482],"nice":false},"axis":null}}},
{"data":{"name":"scalelabels"},"mark":{"type":"text","font":"Open Sans","fontWeight":"bold","fontSize":8,"color":"#333","align":"center","baseline":"middle"},"encoding":{"x":{"field":"lon","type":"quantitative","scale":{"domain":[39.7806,41.7656],"nice":false},"axis":null},"y":{"datum":7.7172,"type":"quantitative","scale":{"domain":[7.6539,9.5482],"nice":false},"axis":null},"text":{"field":"t"}}}
]}
